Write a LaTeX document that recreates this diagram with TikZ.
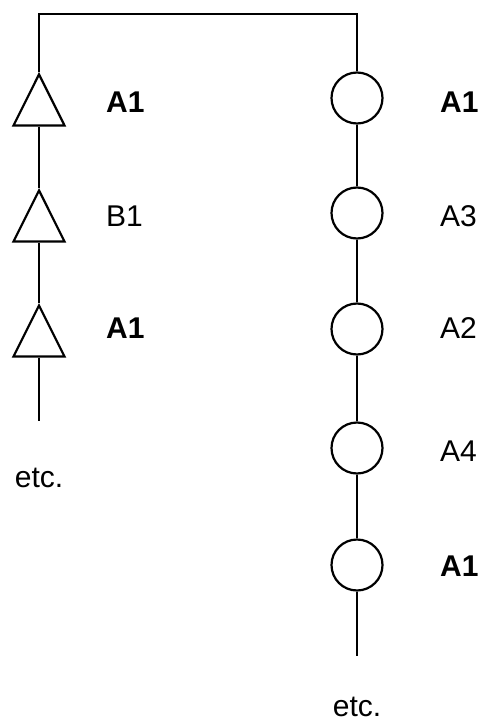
\documentclass[tikz,border=0pt]{standalone}
\usepackage{fontspec}
\setmainfont{Liberation Sans}
\usetikzlibrary{shapes.geometric}
\tikzset{
  wire/.style={line width=2.2pt},
  gatetri/.style={
    draw, line width=2.2pt, isosceles triangle, shape border rotate=90,
    isosceles triangle apex angle=53.13, minimum width=51pt,
    minimum height=51pt, inner sep=0pt, anchor=apex
  },
  gatecirc/.style={
    draw, line width=2.2pt, circle, minimum size=51pt, inner sep=0pt
  },
  wirelabel/.style={
    font=\fontsize{30}{36}\selectfont, anchor=west, inner sep=0pt
  },
  etclabel/.style={
    font=\fontsize{30}{36}\selectfont, inner sep=0pt
  },
}
\begin{document}
\begin{tikzpicture}[x=1pt, y=-1pt]
  \useasboundingbox (0,0) rectangle (479,722);

  % -- left branch: triangles --
  \node[gatetri] (t1) at (39,72) {};
  \node[gatetri] (t2) at (39,188) {};
  \node[gatetri] (t3) at (39,303) {};
  \coordinate (endL) at (39,421);

  \node[wirelabel] (lt1) at (106,102) {\textbf{A1}};
  \node[wirelabel] (lt2) at (106,216) {B1};
  \node[wirelabel] (lt3) at (106,328) {\textbf{A1}};
  \node[etclabel] (etcL) at (39,478) {etc.};

  % -- right branch: circles --
  \node[gatecirc] (c1) at (357,98) {};
  \node[gatecirc] (c2) at (357,213) {};
  \node[gatecirc] (c3) at (357,329) {};
  \node[gatecirc] (c4) at (357,448) {};
  \node[gatecirc] (c5) at (357,565) {};
  \coordinate (endR) at (357,656);

  \node[wirelabel] (lc1) at (440,102) {\textbf{A1}};
  \node[wirelabel] (lc2) at (440,216) {A3};
  \node[wirelabel] (lc3) at (440,328) {A2};
  \node[wirelabel] (lc4) at (440,451) {A4};
  \node[wirelabel] (lc5) at (440,566) {\textbf{A1}};
  \node[etclabel] (etcR) at (357,707) {etc.};

  % -- wires --
  \coordinate (topL) at (39,14);
  \coordinate (topR) at (357,14);
  \draw[wire] (t1) -- (topL) -- (topR) -- (c1);
  \draw[wire] (t1) -- (t2);
  \draw[wire] (t2) -- (t3);
  \draw[wire] (t3) -- (endL);
  \draw[wire] (c1) -- (c2);
  \draw[wire] (c2) -- (c3);
  \draw[wire] (c3) -- (c4);
  \draw[wire] (c4) -- (c5);
  \draw[wire] (c5) -- (endR);
\end{tikzpicture}
\end{document}
